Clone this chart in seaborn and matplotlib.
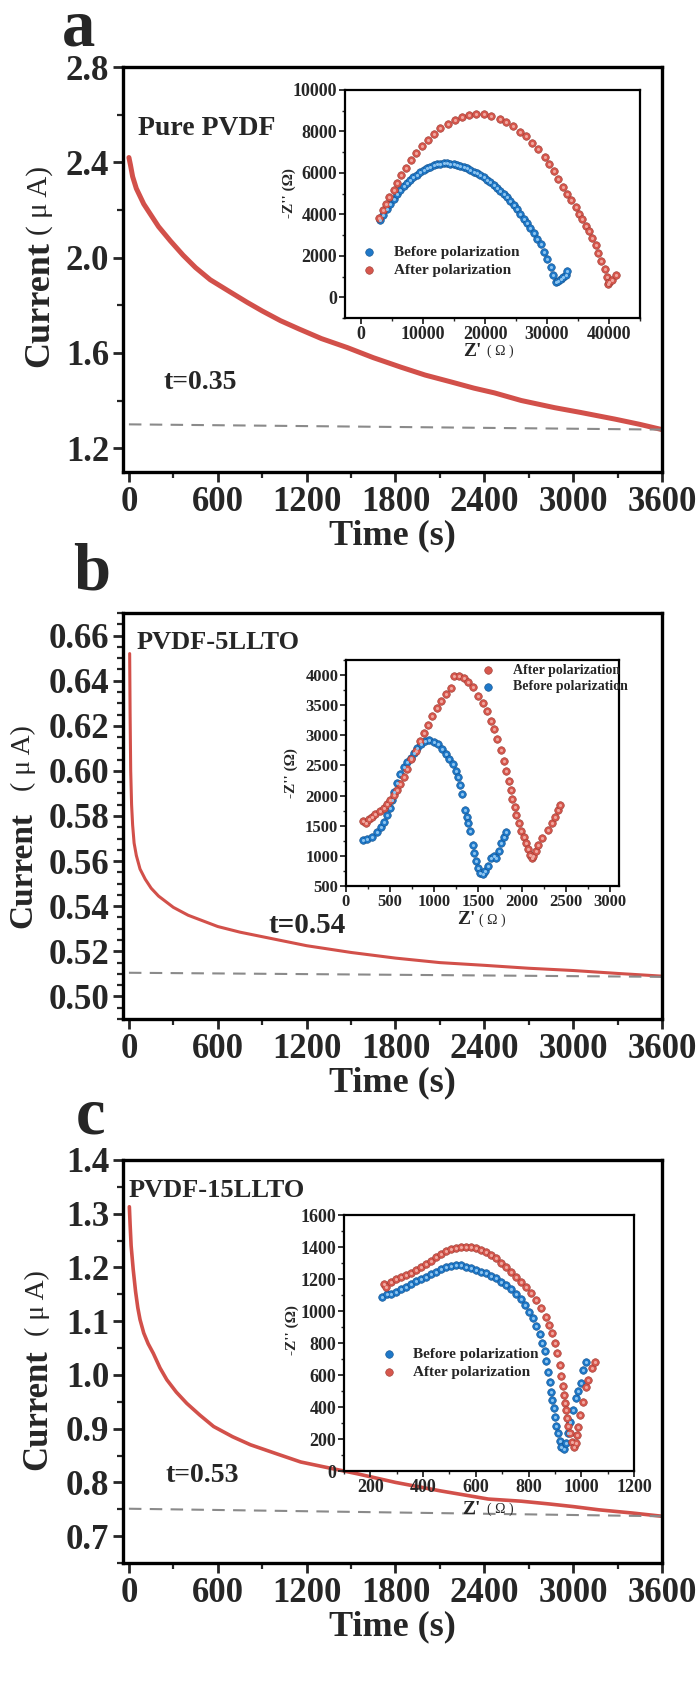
import numpy as np
import pandas as pd
import matplotlib
matplotlib.use("Agg")
import matplotlib.pyplot as plt
import seaborn as sns
from matplotlib.ticker import MultipleLocator

sns.set_style("ticks")
plt.rcParams['font.family'] = ['Liberation Serif', 'DejaVu Serif']
plt.rcParams['axes.edgecolor'] = 'black'

# ---------------- main chronoamperometry data ----------------
a_time = [0, 10, 25, 50, 100, 142, 200, 280, 366, 450, 549, 680, 799, 900, 1024, 1150, 1300,
          1476, 1650, 1837, 2000, 2176, 2330, 2469, 2650, 2875, 3050, 3282, 3450, 3600]
a_curr = [2.42, 2.39, 2.34, 2.29, 2.225, 2.185, 2.13, 2.07, 2.01, 1.958, 1.907, 1.857, 1.812,
          1.776, 1.735, 1.70, 1.66, 1.622, 1.58, 1.54, 1.507, 1.478, 1.452, 1.432, 1.40,
          1.37, 1.35, 1.322, 1.30, 1.278]
a_base_t = [0, 3600]
a_base_v = [1.300, 1.278]

b_time = [5, 8, 12, 18, 25, 35, 50, 75, 110, 150, 200, 300, 400, 500, 600, 750, 900, 1050,
          1200, 1500, 1800, 2100, 2400, 2700, 3000, 3300, 3600]
b_curr = [0.652, 0.625, 0.600, 0.585, 0.576, 0.568, 0.5625, 0.5565, 0.552, 0.548, 0.5445,
          0.5395, 0.536, 0.5335, 0.531, 0.5285, 0.5265, 0.5245, 0.5225, 0.5195, 0.517, 0.515,
          0.5138, 0.5125, 0.5115, 0.5102, 0.509]
b_base_t = [0, 3600]
b_base_v = [0.5105, 0.5087]

c_time = [3, 8, 15, 29, 45, 60, 75, 100, 130, 165, 210, 256, 320, 391, 480, 572, 700, 821,
          1000, 1160, 1350, 1543, 1800, 2108, 2300, 2427, 2650, 2834, 3000, 3173, 3400, 3600]
c_curr = [1.313, 1.28, 1.24, 1.196, 1.155, 1.125, 1.103, 1.078, 1.058, 1.04, 1.013, 0.991,
          0.968, 0.947, 0.925, 0.904, 0.885, 0.870, 0.853, 0.838, 0.827, 0.816, 0.800, 0.784,
          0.775, 0.769, 0.765, 0.760, 0.755, 0.749, 0.743, 0.737]
c_base_t = [0, 3600]
c_base_v = [0.751, 0.737]

time_ticks = [0, 600, 1200, 1800, 2400, 3000, 3600]
a_yticks = [1.2, 1.6, 2.0, 2.4, 2.8]
b_yticks = [0.50, 0.52, 0.54, 0.56, 0.58, 0.60, 0.62, 0.64, 0.66]
c_yticks = [0.7, 0.8, 0.9, 1.0, 1.1, 1.2, 1.3, 1.4]

# ---------------- EIS inset data ----------------
ia_before_x = [3070, 3600, 4150, 4690, 5230, 5770, 6300, 6850, 7400, 7920, 8450, 9000, 9550,
               10080, 10620, 11160, 11700, 12240, 12780, 13320, 13850, 14390, 14930, 15470,
               16010, 16550, 17090, 17630, 18170, 18710, 19250, 19790, 20320, 20860, 21400,
               21940, 22480, 23020, 23560, 24100, 24640, 25180, 25710, 26250, 26790, 27330,
               27870, 28410, 28950, 29490, 30030, 30570, 31000, 31370, 31800, 32180, 32600,
               32990, 33260]
ia_before_y = [3750, 3950, 4250, 4510, 4750, 4970, 5170, 5360, 5520, 5670, 5800, 5910, 6030,
               6140, 6220, 6300, 6370, 6420, 6450, 6460, 6460, 6450, 6420, 6390, 6350, 6290,
               6220, 6140, 6060, 5990, 5910, 5790, 5670, 5560, 5440, 5290, 5140, 4990, 4830,
               4640, 4440, 4240, 4040, 3800, 3570, 3330, 3100, 2830, 2550, 2200, 1850, 1450,
               1070, 750, 780, 860, 970, 1070, 1250]
ia_after_x = [2960, 3500, 4040, 4580, 5230, 5770, 6420, 7280, 8030, 8890, 9810, 10780, 11810,
              12780, 13960, 15090, 16280, 17360, 18600, 19780, 20970, 22480, 23450, 24530,
              25710, 26680, 27600, 28570, 29600, 30300, 31110, 31810, 32560, 33260, 33910,
              34610, 35150, 35690, 36230, 36770, 37300, 37840, 38270, 38760, 39300, 39730,
              39840, 40000, 40540, 41080]
ia_after_y = [3840, 4190, 4510, 4830, 5170, 5530, 5920, 6240, 6630, 6970, 7290, 7600, 7880,
              8150, 8350, 8560, 8710, 8790, 8850, 8820, 8750, 8620, 8460, 8240, 7990, 7760,
              7460, 7130, 6790, 6440, 6080, 5690, 5340, 4980, 4670, 4360, 4040, 3760, 3450,
              3180, 2870, 2510, 2160, 1770, 1380, 990, 630, 750, 830, 1070]

ib_before_x = [191, 237, 294, 351, 397, 435, 466, 496, 523, 550, 580, 618, 656, 695, 733, 771,
               809, 847, 893, 943, 1000, 1050, 1095, 1134, 1172, 1210, 1248, 1275, 1298, 1313,
               1355, 1374, 1389, 1412, 1439, 1458, 1477, 1496, 1527, 1553, 1580, 1611, 1649,
               1679, 1706, 1737, 1763, 1794, 1813]
ib_before_y = [1265, 1276, 1320, 1402, 1473, 1566, 1676, 1801, 1922, 2058, 2206, 2359, 2468,
               2550, 2632, 2714, 2796, 2862, 2906, 2917, 2895, 2851, 2769, 2687, 2605, 2523,
               2414, 2304, 2168, 2020, 1769, 1648, 1539, 1413, 1183, 1047, 910, 800, 719, 691,
               746, 839, 965, 992, 965, 1074, 1211, 1320, 1402]
ib_after_x = [198, 229, 256, 294, 332, 382, 427, 466, 504, 542, 580, 618, 656, 695, 740, 790,
              840, 885, 931, 981, 1031, 1084, 1134, 1191, 1229, 1279, 1336, 1389, 1447, 1504,
              1553, 1599, 1641, 1679, 1718, 1763, 1794, 1821, 1847, 1870, 1889, 1916, 1935,
              1966, 1992, 2019, 2042, 2069, 2088, 2107, 2126, 2153, 2183, 2221, 2290, 2336,
              2374, 2405, 2431]
ib_after_y = [1583, 1539, 1605, 1648, 1692, 1747, 1801, 1856, 1922, 2004, 2086, 2195, 2315,
              2441, 2605, 2742, 2906, 3042, 3179, 3316, 3452, 3573, 3682, 3781, 3983, 3983,
              3945, 3890, 3808, 3660, 3535, 3398, 3245, 3097, 2933, 2753, 2578, 2403, 2239,
              2086, 1949, 1812, 1676, 1539, 1419, 1320, 1211, 1112, 1019, 965, 992, 1074,
              1183, 1293, 1429, 1539, 1648, 1757, 1839]

ic_before_x = [245, 263, 280, 298, 317, 336, 355, 374, 393, 412, 431, 450, 469, 488, 507, 526,
               545, 564, 583, 602, 621, 640, 659, 678, 697, 716, 735, 754, 770, 785, 802, 817,
               829, 842, 852, 861, 867, 874, 880, 886, 890, 895, 899, 905, 912, 918, 924, 933,
               941, 950, 958, 969, 979, 987, 998, 1006, 1019]
ic_before_y = [1085, 1104, 1106, 1121, 1135, 1152, 1169, 1190, 1202, 1215, 1231, 1246, 1260,
               1273, 1281, 1285, 1285, 1277, 1267, 1256, 1246, 1235, 1221, 1204, 1183, 1163,
               1138, 1106, 1073, 1038, 996, 954, 906, 856, 802, 752, 690, 621, 558, 496, 444,
               392, 340, 281, 235, 190, 152, 135, 173, 235, 308, 381, 454, 502, 548, 631, 683]
ic_after_x = [250, 260, 280, 298, 317, 336, 355, 374, 393, 412, 431, 450, 469, 488, 507, 526,
              545, 564, 583, 602, 621, 640, 659, 678, 697, 716, 735, 754, 773, 792, 811, 829,
              848, 865, 877, 889, 899, 908, 918, 924, 931, 934, 939, 943, 947, 951, 958, 966,
              972, 979, 984, 989, 996, 1006, 1017, 1027, 1041, 1051]
ic_after_y = [1169, 1148, 1183, 1198, 1210, 1225, 1235, 1256, 1273, 1294, 1315, 1335, 1356,
              1373, 1385, 1396, 1398, 1398, 1398, 1392, 1381, 1367, 1350, 1329, 1302, 1273,
              1246, 1215, 1183, 1148, 1110, 1069, 1017, 965, 913, 860, 798, 735, 663, 594,
              531, 475, 427, 381, 329, 281, 235, 183, 152, 173, 225, 277, 350, 433, 527, 569,
              642, 683]

BLUE = "#1f78c8"
BLUE_E = "#12508a"
RED = "#d6574d"
RED_E = "#9a3a32"
LINE_RED = "#d2504a"

W, H = 700, 1682
fig = plt.figure(figsize=(7, 16.82), dpi=100)


def fig_rect(l, t, r, b):
    return [l / W, 1 - b / H, (r - l) / W, (b - t) / H]


def style_main(ax, ylim, yticks, fmt, yminor):
    ax.set_xlim(-40, 3600)
    ax.set_ylim(*ylim)
    ax.set_xticks(time_ticks)
    ax.set_xticklabels([str(t) for t in time_ticks], fontsize=25, fontweight='bold')
    ax.set_yticks(yticks)
    ax.set_yticklabels([fmt % v for v in yticks], fontsize=25, fontweight='bold')
    ax.xaxis.set_minor_locator(MultipleLocator(300))
    ax.yaxis.set_minor_locator(MultipleLocator(yminor))
    ax.tick_params(which='major', direction='out', length=7, width=2, pad=3)
    ax.tick_params(which='minor', direction='out', length=4, width=1.6)
    for s in ax.spines.values():
        s.set_linewidth(2.4)
        s.set_visible(True)
    ax.set_xlabel("Time (s)", fontsize=26, fontweight='bold', labelpad=0)
    ax.set_ylabel("")


def add_ylabel(ax, x, y_cur, y_unit, size_cur, size_unit):
    ax.text(x, y_cur, "Current", rotation=90, transform=ax.transAxes, ha='center', va='center',
            fontsize=size_cur, fontweight='bold')
    ax.text(x, y_unit, "( μ A)", rotation=90, transform=ax.transAxes, ha='center', va='center',
            fontsize=size_unit)


def style_inset(ax, xlim, ylim, xticks, yticks, xminor, yminor, size):
    ax.set_xlim(*xlim)
    ax.set_ylim(*ylim)
    ax.set_xticks(xticks)
    ax.set_xticklabels([str(v) for v in xticks], fontsize=size, fontweight='bold')
    ax.set_yticks(yticks)
    ax.set_yticklabels([str(v) for v in yticks], fontsize=size, fontweight='bold')
    ax.xaxis.set_minor_locator(MultipleLocator(xminor))
    ax.yaxis.set_minor_locator(MultipleLocator(yminor))
    ax.tick_params(which='major', direction='out', length=4, width=1.3, pad=1.5)
    ax.tick_params(which='minor', direction='out', length=2.5, width=1.0)
    for s in ax.spines.values():
        s.set_linewidth(1.6)
        s.set_visible(True)
    ax.set_xlabel("")
    ax.set_ylabel("")


def inset_labels(ax, ylab_x, ylab_y, xlab_y, zx, ox):
    ax.text(ylab_x, ylab_y, "-Z'' (Ω)", rotation=90, transform=ax.transAxes, ha='center',
            va='center', fontsize=11, fontweight='bold')
    ax.text(zx, xlab_y, "Z'", transform=ax.transAxes, ha='center', va='center', fontsize=14,
            fontweight='bold')
    ax.text(ox, xlab_y, "( Ω )", transform=ax.transAxes, ha='center', va='center', fontsize=10)


def scatter_pair(ax, bx, by, axx, ay):
    sns.scatterplot(x=bx, y=by, ax=ax, color=BLUE, s=30, edgecolor=BLUE_E, linewidth=0.4,
                    label="Before polarization", zorder=3)
    sns.scatterplot(x=axx, y=ay, ax=ax, color=RED, s=30, edgecolor=RED_E, linewidth=0.4,
                    label="After polarization", zorder=3)
    # sphere highlight
    sns.scatterplot(x=bx, y=by, ax=ax, color="#8cc4f0", s=5, linewidth=0, zorder=4, legend=False)
    sns.scatterplot(x=axx, y=ay, ax=ax, color="#f0a8a0", s=5, linewidth=0, zorder=4, legend=False)


legend_prop = {'family': 'Liberation Serif', 'weight': 'bold'}

# ====================== panel a ======================
ax_a = fig.add_axes(fig_rect(123, 67, 662, 472))
sns.lineplot(x=a_time, y=a_curr, ax=ax_a, color=LINE_RED, lw=3.6)
sns.lineplot(x=a_base_t, y=a_base_v, ax=ax_a, color="#8a8a8a", lw=1.5, linestyle=(0, (6, 4)))
style_main(ax_a, (1.1, 2.8), a_yticks, "%.1f", 0.2)
add_ylabel(ax_a, -0.155, 0.415, 0.67, 26, 21)
ax_a.text(61, 2.541, "Pure PVDF", fontsize=20, fontweight='bold', va='center', ha='left')
ax_a.text(233, 1.477, "t=0.35", fontsize=20, fontweight='bold', va='center', ha='left')

ia = fig.add_axes(fig_rect(345, 90, 640, 318))
scatter_pair(ia, ia_before_x, ia_before_y, ia_after_x, ia_after_y)
style_inset(ia, (-2600, 45000), (-1000, 10000), [0, 10000, 20000, 30000, 40000],
            [0, 2000, 4000, 6000, 8000, 10000], 5000, 1000, 13)
h, l = ia.get_legend_handles_labels()
ia.legend(h, l, loc='center left', bbox_to_anchor=(0.0, 0.25), frameon=False,
          prop={**legend_prop, 'size': 11}, handletextpad=0.6, borderaxespad=0.2,
          labelspacing=0.3)
inset_labels(ia, -0.19, 0.55, -0.145, 0.43, 0.525)

# ====================== panel b ======================
ax_b = fig.add_axes(fig_rect(123, 613, 662, 1019))
sns.lineplot(x=b_time, y=b_curr, ax=ax_b, color=LINE_RED, lw=2.2)
sns.lineplot(x=b_base_t, y=b_base_v, ax=ax_b, color="#8a8a8a", lw=1.5, linestyle=(0, (6, 4)))
style_main(ax_b, (0.49, 0.67), b_yticks, "%.2f", 0.005)
add_ylabel(ax_b, -0.185, 0.367, 0.643, 24, 20)
ax_b.text(54, 0.657, "PVDF-5LLTO", fontsize=19, fontweight='bold', va='center', ha='left')
ax_b.text(940, 0.5315, "t=0.54", fontsize=21, fontweight='bold', va='center', ha='left')

ib = fig.add_axes(fig_rect(346, 660, 619, 886))
scatter_pair(ib, ib_before_x, ib_before_y, ib_after_x, ib_after_y)
style_inset(ib, (0, 3100), (500, 4250), [0, 500, 1000, 1500, 2000, 2500, 3000],
            [500, 1000, 1500, 2000, 2500, 3000, 3500, 4000], 250, 250, 12)
h, l = ib.get_legend_handles_labels()
ib.legend([h[1], h[0]], [l[1], l[0]], loc='upper left', bbox_to_anchor=(0.44, 1.02),
          frameon=False, prop={**legend_prop, 'size': 10}, handletextpad=0.8,
          borderaxespad=0.2, labelspacing=0.25)
inset_labels(ib, -0.2, 0.5, -0.15, 0.44, 0.535)

# ====================== panel c ======================
ax_c = fig.add_axes(fig_rect(123, 1160, 662, 1563))
sns.lineplot(x=c_time, y=c_curr, ax=ax_c, color=LINE_RED, lw=2.6)
sns.lineplot(x=c_base_t, y=c_base_v, ax=ax_c, color="#8a8a8a", lw=1.5, linestyle=(0, (6, 4)))
style_main(ax_c, (0.65, 1.4), c_yticks, "%.1f", 0.05)
add_ylabel(ax_c, -0.158, 0.38, 0.645, 25, 20)
ax_c.text(0, 1.344, "PVDF-15LLTO", fontsize=19, fontweight='bold', va='center', ha='left')
ax_c.text(244, 0.813, "t=0.53", fontsize=20, fontweight='bold', va='center', ha='left')

ic = fig.add_axes(fig_rect(344, 1215, 634, 1471))
scatter_pair(ic, ic_before_x, ic_before_y, ic_after_x, ic_after_y)
style_inset(ic, (100, 1200), (0, 1600), [200, 400, 600, 800, 1000, 1200],
            [0, 200, 400, 600, 800, 1000, 1200, 1400, 1600], 100, 100, 13)
h, l = ic.get_legend_handles_labels()
ic.legend(h, l, loc='center left', bbox_to_anchor=(0.07, 0.42), frameon=False,
          prop={**legend_prop, 'size': 11}, handletextpad=0.6, borderaxespad=0.2,
          labelspacing=0.3)
inset_labels(ic, -0.18, 0.55, -0.15, 0.44, 0.54)

# panel letters
fig.text(62 / W, 1 - 45 / H, "a", fontsize=48, fontweight='bold', ha='left', va='baseline')
fig.text(73 / W, 1 - 590 / H, "b", fontsize=48, fontweight='bold', ha='left', va='baseline')
fig.text(76 / W, 1 - 1133 / H, "c", fontsize=48, fontweight='bold', ha='left', va='baseline')

fig.savefig("out.png", dpi=100)
